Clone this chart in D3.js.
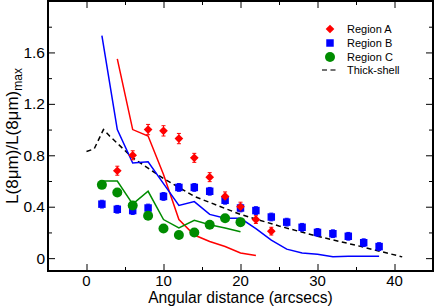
<!DOCTYPE html>
<html>
<meta charset="utf-8">
<style>
  body { margin: 0; background: #fff; }
  text { font-family: "Liberation Sans", Arial, sans-serif; }
</style>
<body>
<div id="chart"></div>
<script src="https://cdn.jsdelivr.net/npm/d3@7"></script>
<script>
"use strict";

// Region A (red diamonds)
var distA = [4, 6, 8, 10, 12, 14, 16, 18, 20, 22, 24];
var valA  = [0.68, 0.80, 1.00, 0.99, 0.93, 0.78, 0.63, 0.48, 0.40, 0.30, 0.21];
var errA  = [0.035, 0.035, 0.04, 0.04, 0.04, 0.035, 0.035, 0.035, 0.035, 0.03, 0.03];

// Region B (blue squares)
var distB = [2, 4, 6, 8, 10, 12, 14, 16, 18, 20, 22, 24, 26, 28, 30, 32, 34, 36, 38];
var valB  = [0.42, 0.38, 0.37, 0.39, 0.48, 0.55, 0.55, 0.52, 0.45, 0.39, 0.37, 0.32,
             0.28, 0.24, 0.20, 0.19, 0.17, 0.12, 0.09];
var errB  = 0.03;

// Region C (green circles)
var distC = [2, 4, 6, 8, 10, 12, 14, 16, 18, 20];
var valC  = [0.57, 0.51, 0.41, 0.33, 0.23, 0.18, 0.20, 0.26, 0.31, 0.28];
var errC  = 0.02;

// model curves
var lineAx = [4, 6, 8, 10, 12, 14, 16, 18, 20, 22];
var lineAy = [1.55, 1.00, 0.95, 0.65, 0.30, 0.18, 0.13, 0.09, 0.04, 0.02];
var lineBx = [2, 4, 6, 8, 10, 12, 14, 16, 18, 20, 22, 24, 26, 28, 30, 32, 34, 36, 38];
var lineBy = [1.73, 1.00, 0.74, 0.75, 0.58, 0.41, 0.44, 0.34, 0.31, 0.31, 0.23, 0.14,
              0.07, 0.04, 0.03, 0.01, 0.015, 0.015, 0.015];
var lineCx = [2, 4, 6, 8, 10, 12, 14, 16, 18, 20];
var lineCy = [0.60, 0.60, 0.42, 0.52, 0.30, 0.235, 0.295, 0.26, 0.235, 0.205];
var shellX = [0, 1, 2.2, 3, 6, 10, 14, 20, 25, 30, 35, 41];
var shellY = [0.83, 0.85, 1.00, 0.95, 0.78, 0.62, 0.48, 0.34, 0.25, 0.17, 0.10, 0.01];

var xTicks = [0, 10, 20, 30, 40];
var yTicks = [0, 0.4, 0.8, 1.2, 1.6];

var W = 436, H = 307;
var pL = 48, pR = 433, pT = 1, pB = 271;

var red = "#ff0000", blue = "#0000ff", green = "#008c00";

var svg = d3.select("#chart").append("svg").attr("width", W).attr("height", H);

var x = d3.scaleLinear().domain([-5, 45]).range([pL, pR]);
var y = d3.scaleLinear().domain([-0.1, 2.0]).range([pB, pT]);

var xMinor = [-5, 5, 15, 25, 35, 45];
var yMinor = [0.2, 0.6, 1.0, 1.4, 1.8];
var yMajorAll = yTicks.concat([2.0]);

// axes with inward ticks on all four sides
function addAxis(gen, tx, ty, vals, size) {
  var g = svg.append("g").attr("transform", "translate(" + tx + "," + ty + ")")
    .call(gen.tickValues(vals).tickSize(size).tickFormat(""));
  g.select(".domain").remove();
  g.selectAll("line").attr("stroke", "#000").attr("stroke-width", 1);
  return g;
}
addAxis(d3.axisBottom(x), 0, pB, xTicks, -7);
addAxis(d3.axisBottom(x), 0, pB, xMinor, -4);
addAxis(d3.axisTop(x), 0, pT, xTicks, -7);
addAxis(d3.axisTop(x), 0, pT, xMinor, -4);
addAxis(d3.axisLeft(y), pL, 0, yMajorAll, -7);
addAxis(d3.axisLeft(y), pL, 0, yMinor, -4);
addAxis(d3.axisRight(y), pR, 0, yMajorAll, -7);
addAxis(d3.axisRight(y), pR, 0, yMinor, -4);

// tick labels
svg.selectAll("text.xt").data(xTicks).enter().append("text")
  .attr("x", function (d) { return x(d); })
  .attr("y", 285.5)
  .attr("text-anchor", "middle")
  .style("font-size", "15px")
  .text(function (d) { return d; });

svg.selectAll("text.yt").data(yTicks).enter().append("text")
  .attr("x", 45)
  .attr("y", function (d) { return y(d) + 5.5; })
  .attr("text-anchor", "end")
  .style("font-size", "15.5px")
  .text(function (d) { return d === 0 ? "0" : d.toFixed(1); });

// axis titles
svg.append("text")
  .attr("x", (pL + pR) / 2)
  .attr("y", 302.5)
  .attr("text-anchor", "middle")
  .style("font-size", "15.6px")
  .text("Angular distance (arcsecs)");

var yl = svg.append("text")
  .attr("transform", "translate(18,136) rotate(-90)")
  .attr("text-anchor", "middle")
  .style("font-size", "17px");
yl.append("tspan").text("L(8\u03bcm)/L(8\u03bcm)");
yl.append("tspan").attr("dy", 4).style("font-size", "12px").text("max");

// clip to frame
svg.append("clipPath").attr("id", "clip").append("rect")
  .attr("x", pL).attr("y", pT).attr("width", pR - pL).attr("height", pB - pT);
var plot = svg.append("g").attr("clip-path", "url(#clip)");

var line = d3.line().x(function (d) { return x(d[0]); }).y(function (d) { return y(d[1]); });
function zip(a, b) { return a.map(function (v, i) { return [v, b[i]]; }); }

plot.append("path").datum(zip(shellX, shellY)).attr("d", line)
  .attr("fill", "none").attr("stroke", "#000").attr("stroke-width", 1.5)
  .attr("stroke-dasharray", "5,3.5");
plot.append("path").datum(zip(lineAx, lineAy)).attr("d", line)
  .attr("fill", "none").attr("stroke", red).attr("stroke-width", 1.5);
plot.append("path").datum(zip(lineBx, lineBy)).attr("d", line)
  .attr("fill", "none").attr("stroke", blue).attr("stroke-width", 1.5);
plot.append("path").datum(zip(lineCx, lineCy)).attr("d", line)
  .attr("fill", "none").attr("stroke", green).attr("stroke-width", 1.5);

// error bars
function errBars(xs, ys, es, col) {
  var g = plot.append("g").attr("stroke", col).attr("stroke-width", 1);
  xs.forEach(function (xv, i) {
    var e = Array.isArray(es) ? es[i] : es;
    var cx = x(xv), y0 = y(ys[i] - e), y1 = y(ys[i] + e);
    g.append("line").attr("x1", cx).attr("x2", cx).attr("y1", y0).attr("y2", y1);
    g.append("line").attr("x1", cx - 2).attr("x2", cx + 2).attr("y1", y0).attr("y2", y0);
    g.append("line").attr("x1", cx - 2).attr("x2", cx + 2).attr("y1", y1).attr("y2", y1);
  });
}
errBars(distB, valB, errB, blue);
errBars(distC, valC, errC, green);
errBars(distA, valA, errA, red);

var diamond = d3.symbol().type(d3.symbolDiamond2 || d3.symbolDiamond).size(48);
var square = d3.symbol().type(d3.symbolSquare).size(56);

plot.selectAll("path.b").data(distB).enter().append("path")
  .attr("d", square)
  .attr("transform", function (d, i) { return "translate(" + x(d) + "," + y(valB[i]) + ")"; })
  .attr("fill", blue);
plot.selectAll("circle.c").data(distC).enter().append("circle")
  .attr("cx", function (d) { return x(d); })
  .attr("cy", function (d, i) { return y(valC[i]); })
  .attr("r", 5).attr("fill", green);
plot.selectAll("path.a").data(distA).enter().append("path")
  .attr("d", diamond)
  .attr("transform", function (d, i) { return "translate(" + x(d) + "," + y(valA[i]) + ")"; })
  .attr("fill", red);

// frame
svg.append("rect").attr("x", pL).attr("y", pT)
  .attr("width", pR - pL).attr("height", pB - pT)
  .attr("fill", "none").attr("stroke", "#000").attr("stroke-width", 2);

// legend
var leg = svg.append("g");
var lx = 330, rows = [29, 43, 57, 70];
leg.append("path").attr("d", diamond).attr("transform", "translate(" + lx + "," + rows[0] + ")").attr("fill", red);
leg.append("path").attr("d", square).attr("transform", "translate(" + lx + "," + rows[1] + ")").attr("fill", blue);
leg.append("circle").attr("cx", lx).attr("cy", rows[2]).attr("r", 5).attr("fill", green);
leg.append("line").attr("x1", 322).attr("x2", 338).attr("y1", rows[3]).attr("y2", rows[3])
  .attr("stroke", "#444").attr("stroke-width", 1.5).attr("stroke-dasharray", "5,3.5");
leg.selectAll("text").data(["Region A", "Region B", "Region C", "Thick-shell"]).enter().append("text")
  .attr("x", 347)
  .attr("y", function (d, i) { return rows[i] + 4; })
  .style("font-size", "11px")
  .text(function (d) { return d; });
</script>
</body>
</html>
